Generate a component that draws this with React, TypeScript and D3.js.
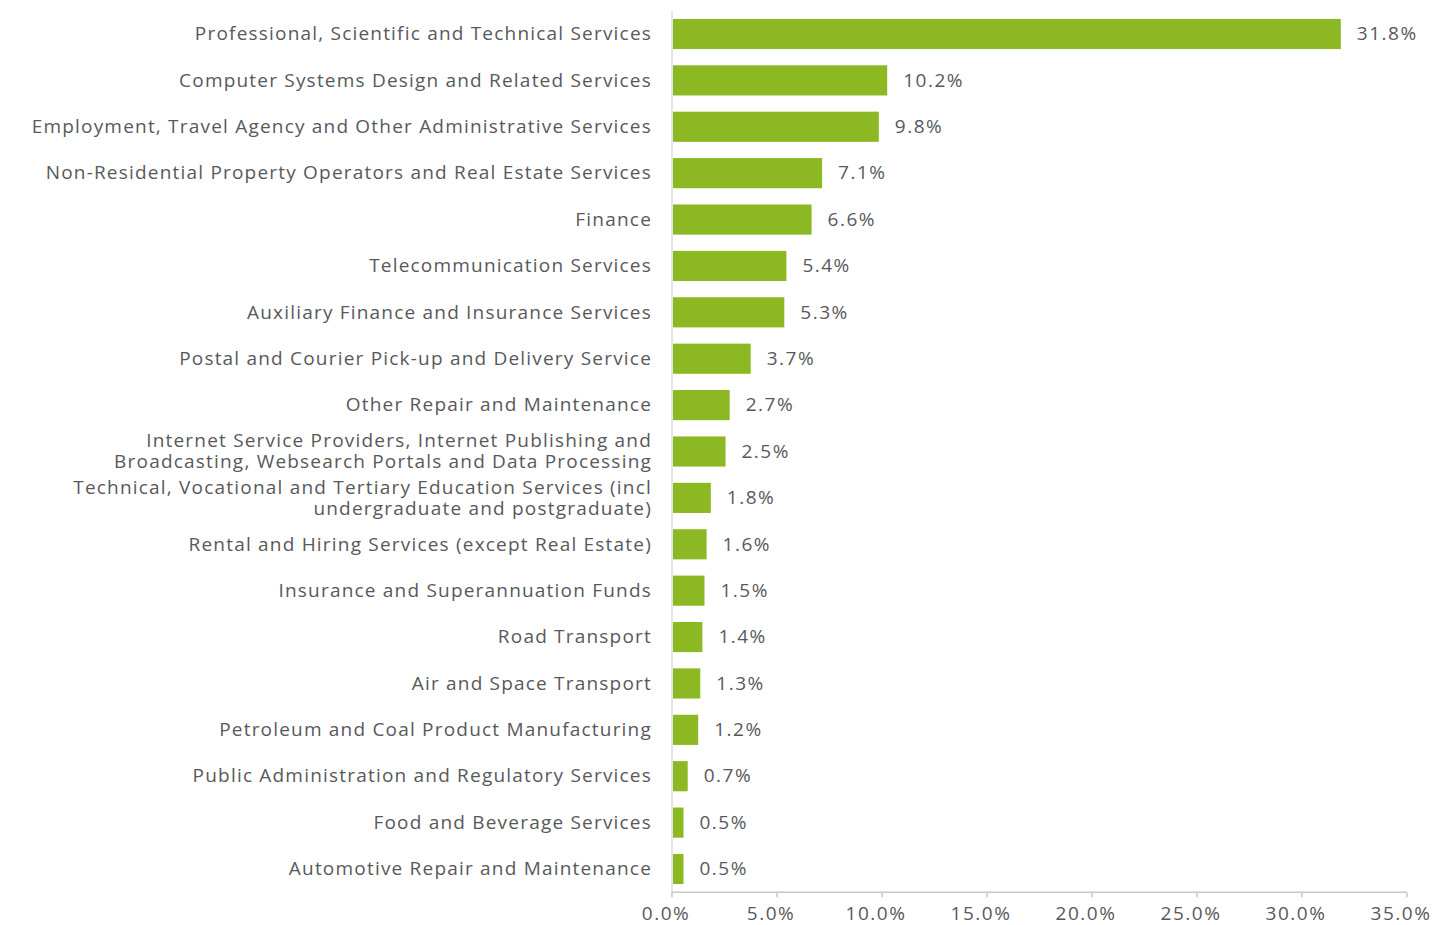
import React from 'react';
import * as d3 from 'd3';

const industries = [
  ['Professional, Scientific and Technical Services'],
  ['Computer Systems Design and Related Services'],
  ['Employment, Travel Agency and Other Administrative Services'],
  ['Non-Residential Property Operators and Real Estate Services'],
  ['Finance'],
  ['Telecommunication Services'],
  ['Auxiliary Finance and Insurance Services'],
  ['Postal and Courier Pick-up and Delivery Service'],
  ['Other Repair and Maintenance'],
  ['Internet Service Providers, Internet Publishing and', 'Broadcasting, Websearch Portals and Data Processing'],
  ['Technical, Vocational and Tertiary Education Services (incl', 'undergraduate and postgraduate)'],
  ['Rental and Hiring Services (except Real Estate)'],
  ['Insurance and Superannuation Funds'],
  ['Road Transport'],
  ['Air and Space Transport'],
  ['Petroleum and Coal Product Manufacturing'],
  ['Public Administration and Regulatory Services'],
  ['Food and Beverage Services'],
  ['Automotive Repair and Maintenance'],
];

const shares = [31.8, 10.2, 9.8, 7.1, 6.6, 5.4, 5.3, 3.7, 2.7, 2.5, 1.8, 1.6, 1.5, 1.4, 1.3, 1.2, 0.7, 0.5, 0.5];

const xTicks = [0, 5, 10, 15, 20, 25, 30, 35];

const width = 1436;
const height = 925;
const marginLeft = 672;
const marginRight = 29;
const marginTop = 10.8;
const axisY = 892.2;

const font = '"Open Sans", sans-serif';
const textColor = '#58595b';
const barColor = '#8cb823';
const fontSize = 19;
const spacing = 1.2;

export default function App() {
  const ids = industries.map((_, i) => String(i));
  const x = d3.scaleLinear().domain([0, 35]).range([marginLeft, width - marginRight]);
  const y = d3.scaleBand<string>().domain(ids).range([marginTop, axisY]).paddingInner(0.35).paddingOuter(0.175);
  const fmt = d3.format('.1f');

  return (
    <svg width={width} height={height}
      style={{ position: 'absolute', left: 0, top: 0, display: 'block', fontFamily: font }}>
      {/* vertical baseline */}
      <line x1={x(0)} x2={x(0)} y1={marginTop} y2={axisY} stroke="#ddd" strokeWidth={1.5} />
      {/* bottom axis */}
      <line x1={x(0)} x2={x(35)} y1={axisY} y2={axisY} stroke="#c8c8c8" strokeWidth={1.5} />
      {xTicks.map(t => (
        <g key={t} transform={`translate(${x(t)},${axisY})`}>
          <line y2={5} stroke="#c8c8c8" strokeWidth={1.5} />
          <text x={-6} y={28} textAnchor="middle" fontSize={fontSize} letterSpacing={1.5} fill={textColor}>{fmt(t)}%</text>
        </g>
      ))}
      {industries.map((lines, i) => {
        const yc = (y(String(i)) as number) + y.bandwidth() / 2;
        const v = shares[i];
        return (
          <g key={i}>
            <rect x={x(0) + 1} y={y(String(i))} width={x(v) - x(0)} height={y.bandwidth()} fill={barColor} />
            <text x={x(0) - 20} y={yc} textAnchor="end" fontSize={fontSize} letterSpacing={spacing} fill={textColor}>
              {lines.map((l, j) => (
                <tspan key={j} x={x(0) - 20} dy={j === 0 ? `${0.33 - (lines.length - 1) * 0.55}em` : '1.1em'}>{l}</tspan>
              ))}
            </text>
            <text x={x(v) + 17} y={yc} dy="0.33em" fontSize={fontSize} letterSpacing={1.5} fill={textColor}>{fmt(v)}%</text>
          </g>
        );
      })}
    </svg>
  );
}
